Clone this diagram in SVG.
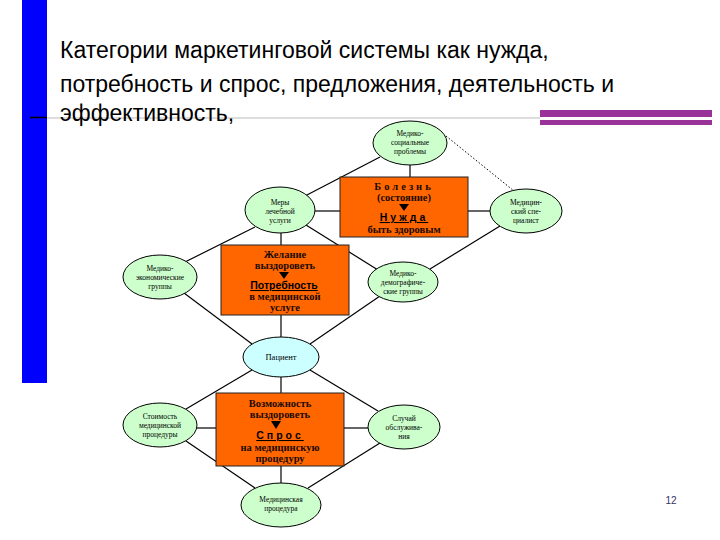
<svg xmlns="http://www.w3.org/2000/svg" width="720" height="540" viewBox="0 0 720 540">
<defs>
<style>
.title{font-family:"Liberation Sans",Arial,sans-serif;font-size:23px;fill:#000}
.ell{fill:#ccffcc;stroke:#000;stroke-width:1}
.ellc{fill:#ccffff;stroke:#000;stroke-width:1}
.box{fill:#ff6600;stroke:#222;stroke-width:1}
.et{font-family:"Liberation Serif","Times New Roman",serif;font-size:7.5px;fill:#000;text-anchor:middle}
.bt{font-family:"Liberation Serif","Times New Roman",serif;font-size:10.5px;font-weight:bold;fill:#1a0a00;text-anchor:middle}
.bu{font-family:"Liberation Sans",Arial,sans-serif;font-size:10.5px;font-weight:bold;fill:#000;text-anchor:middle;text-decoration:underline}
.ln{stroke:#000;stroke-width:1.2;fill:none}
.dot{stroke:#000;stroke-width:1;stroke-dasharray:1.5 2;fill:none}
.arr{fill:#000}
</style>
</defs>
<rect width="720" height="540" fill="#fff"/>
<rect x="22" y="0" width="25" height="383" fill="#0000ff"/>
<line x1="30" y1="117.5" x2="47" y2="117.5" stroke="#000" stroke-width="1.5"/>
<line x1="47" y1="118" x2="540" y2="118" stroke="#bbbbbb" stroke-width="1"/>
<rect x="540" y="110" width="172" height="7" fill="#993399"/>
<rect x="540" y="120" width="172" height="5" fill="#993399"/>
<text class="title" x="60" y="58">Категории маркетинговой системы как нужда,</text>
<text class="title" x="60" y="92">потребность и спрос, предложения, деятельность и</text>
<text class="title" x="60" y="121">эффективность,</text>

<g id="connectors">
<line class="ln" x1="410" y1="165" x2="410" y2="177"/>
<line class="ln" x1="380" y1="157" x2="305" y2="196"/>
<line class="dot" x1="446" y1="136" x2="514" y2="191"/>
<line class="ln" x1="315" y1="211" x2="340" y2="211"/>
<line class="ln" x1="468" y1="211" x2="490" y2="211"/>
<line class="ln" x1="281" y1="233" x2="281" y2="245"/>
<line class="ln" x1="255" y1="227" x2="185" y2="262"/>
<line class="ln" x1="306" y1="225" x2="378" y2="270"/>
<line class="ln" x1="500" y1="226" x2="430" y2="269"/>
<line class="ln" x1="281" y1="315" x2="281" y2="337"/>
<line class="ln" x1="184" y1="293" x2="252" y2="344"/>
<line class="ln" x1="380" y1="296" x2="310" y2="344"/>
<line class="ln" x1="281" y1="377" x2="281" y2="393"/>
<line class="ln" x1="252" y1="370" x2="186" y2="409"/>
<line class="ln" x1="310" y1="370" x2="378" y2="411"/>
<line class="ln" x1="197" y1="428" x2="216" y2="428"/>
<line class="ln" x1="344" y1="428" x2="368" y2="428"/>
<line class="ln" x1="186" y1="441" x2="255" y2="488"/>
<line class="ln" x1="380" y1="443" x2="308" y2="488"/>
<line class="ln" x1="281" y1="466" x2="281" y2="483"/>
</g>

<g id="n-problems">
<ellipse class="ell" cx="410" cy="143" rx="37" ry="22"/>
<text class="et" x="410" y="136">Медико-</text>
<text class="et" x="410" y="145">социальные</text>
<text class="et" x="410" y="154">проблемы</text>
</g>
<g id="n-need">
<rect class="box" x="340" y="177" width="128" height="60"/>
<text class="bt" x="404" y="190" letter-spacing="3">Болезнь</text>
<text class="bt" x="404" y="201">(состояние)</text>
<path class="arr" d="M399 204 L409 204 L404 211 Z"/>
<text class="bu" x="404" y="221" letter-spacing="3">Нужда</text>
<text class="bt" x="404" y="233">быть здоровым</text>
</g>
<g id="n-measures">
<ellipse class="ell" cx="280" cy="210" rx="35" ry="23"/>
<text class="et" x="280" y="205">Меры</text>
<text class="et" x="280" y="214">лечебной</text>
<text class="et" x="280" y="223">услуги</text>
</g>
<g id="n-specialist">
<ellipse class="ell" cx="526" cy="211" rx="36" ry="22"/>
<text class="et" x="526" y="205">Медицин-</text>
<text class="et" x="526" y="214">ский спе-</text>
<text class="et" x="526" y="223">циалист</text>
</g>
<g id="n-want">
<rect class="box" x="221" y="245" width="128" height="70"/>
<text class="bt" x="285" y="258">Желание</text>
<text class="bt" x="285" y="269">выздороветь</text>
<path class="arr" d="M279 272 L289 272 L284 279 Z"/>
<text class="bu" x="284" y="289">Потребность</text>
<text class="bt" x="285" y="300">в медицинской</text>
<text class="bt" x="285" y="311">услуге</text>
</g>
<g id="n-econ">
<ellipse class="ell" cx="160" cy="277" rx="37" ry="22"/>
<text class="et" x="160" y="271">Медико-</text>
<text class="et" x="160" y="280">экономические</text>
<text class="et" x="160" y="289">группы</text>
</g>
<g id="n-demo">
<ellipse class="ell" cx="403" cy="282" rx="35" ry="20"/>
<text class="et" x="403" y="276">Медико-</text>
<text class="et" x="403" y="285">демографиче-</text>
<text class="et" x="403" y="294">ские группы</text>
</g>
<g id="n-patient">
<ellipse class="ellc" cx="281" cy="357" rx="38" ry="20"/>
<text class="et" x="281" y="360" style="font-size:8.5px">Пациент</text>
</g>
<g id="n-demand">
<rect class="box" x="216" y="393" width="128" height="73"/>
<text class="bt" x="280" y="407">Возможность</text>
<text class="bt" x="280" y="418">выздороветь</text>
<path class="arr" d="M271 421 L281 421 L276 429 Z"/>
<text class="bu" x="280" y="439" letter-spacing="3">Спрос</text>
<text class="bt" x="280" y="451">на медицинскую</text>
<text class="bt" x="280" y="462">процедуру</text>
</g>
<g id="n-cost">
<ellipse class="ell" cx="160" cy="425" rx="37" ry="22"/>
<text class="et" x="160" y="419">Стоимость</text>
<text class="et" x="160" y="428">медицинской</text>
<text class="et" x="160" y="437">процедуры</text>
</g>
<g id="n-case">
<ellipse class="ell" cx="404" cy="427" rx="36" ry="22"/>
<text class="et" x="404" y="421">Случай</text>
<text class="et" x="404" y="430">обслужива-</text>
<text class="et" x="404" y="439">ния</text>
</g>
<g id="n-procedure">
<ellipse class="ell" cx="281" cy="505" rx="40" ry="22"/>
<text class="et" x="281" y="502">Медицинская</text>
<text class="et" x="281" y="511">процедура</text>
</g>
<text x="671" y="504" style="font-family:'Liberation Sans',Arial,sans-serif;font-size:10px;fill:#333366" text-anchor="middle">12</text>
</svg>
